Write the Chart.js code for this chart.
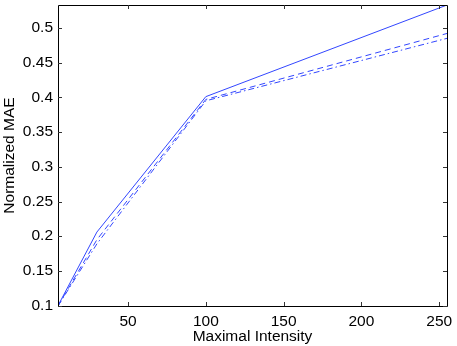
<!DOCTYPE html>
<html>
<head>
<meta charset="utf-8">
<script src="https://cdn.jsdelivr.net/npm/chart.js@4"></script>
<style>
    html, body { margin: 0; padding: 0; background: #fff; }
    #wrap { width: 457px; height: 346px; }
</style>
</head>
<body>
<div id="wrap"><canvas id="maeChart" width="457" height="346"></canvas></div>
<script>
// x positions (maximal intensity) and the three MAE curves
const intensity = [5, 30, 100, 255];
const maeSolid = [0.1, 0.206, 0.401, 0.533];
const maeDashed = [0.0995, 0.195, 0.397, 0.492];
const maeDashDot = [0.0995, 0.189, 0.395, 0.485];

const xTicks = [50, 100, 150, 200, 250];
const yTicks = [0.1, 0.15, 0.2, 0.25, 0.3, 0.35, 0.4, 0.45, 0.5];

const lineColor = 'rgb(50, 70, 255)';
const fontFamily = '"Liberation Sans", Arial, Helvetica, sans-serif';

const allY = maeSolid.concat(maeDashed, maeDashDot);

function toPoints(ys) {
    return intensity.map((x, i) => ({ x: x, y: ys[i] }));
}

// matlab-like box with inward ticks on all four sides
const boxTicks = {
    id: 'boxTicks',
    afterDraw(chart) {
        const ctx = chart.ctx;
        const a = chart.chartArea;
        const xs = chart.scales.x, ys = chart.scales.y;
        const len = 4;
        ctx.save();
        ctx.strokeStyle = '#000';
        ctx.lineWidth = 1;
        ctx.beginPath();
        ctx.rect(Math.round(a.left) + 0.5, Math.round(a.top) + 0.5,
                 Math.round(a.right - a.left), Math.round(a.bottom - a.top));
        ctx.stroke();
        ctx.strokeStyle = '#333';
        ctx.beginPath();
        xTicks.forEach(v => {
            const px = Math.round(xs.getPixelForValue(v)) + 0.5;
            ctx.moveTo(px, a.bottom); ctx.lineTo(px, a.bottom - len);
            ctx.moveTo(px, a.top); ctx.lineTo(px, a.top + len);
        });
        yTicks.forEach(v => {
            const py = Math.round(ys.getPixelForValue(v)) + 0.5;
            ctx.moveTo(a.left, py); ctx.lineTo(a.left + len, py);
            ctx.moveTo(a.right, py); ctx.lineTo(a.right - len, py);
        });
        ctx.stroke();
        ctx.restore();
    }
};

new Chart(document.getElementById('maeChart'), {
    type: 'line',
    data: {
        datasets: [
            {
                data: toPoints(maeSolid),
                borderColor: lineColor,
                borderWidth: 1,
                pointRadius: 0,
                tension: 0
            },
            {
                data: toPoints(maeDashed),
                borderColor: lineColor,
                borderWidth: 1,
                borderDash: [6, 4],
                pointRadius: 0,
                tension: 0
            },
            {
                data: toPoints(maeDashDot),
                borderColor: lineColor,
                borderWidth: 1,
                borderDash: [6, 3, 1.5, 3],
                pointRadius: 0,
                tension: 0
            }
        ]
    },
    options: {
        responsive: false,
        animation: false,
        layout: { padding: { top: 5, right: 10, left: 0, bottom: 0 } },
        plugins: {
            legend: { display: false },
            tooltip: { enabled: false }
        },
        scales: {
            x: {
                type: 'linear',
                min: 5,
                max: 255,
                grid: { display: false, drawTicks: false },
                border: { display: false },
                afterBuildTicks: scale => { scale.ticks = xTicks.map(v => ({ value: v })); },
                afterFit: scale => { scale.height = 40; scale.paddingLeft = 0; scale.paddingRight = 0; },
                ticks: {
                    color: '#000',
                    padding: 6,
                    maxRotation: 0,
                    font: { family: fontFamily, size: 15.5 }
                },
                title: {
                    display: true,
                    text: 'Maximal Intensity',
                    color: '#000',
                    padding: { top: 0, bottom: 0 },
                    font: { family: fontFamily, size: 15.5 }
                }
            },
            y: {
                type: 'linear',
                min: Math.min(...allY),
                max: Math.max(...allY),
                grid: { display: false, drawTicks: false },
                border: { display: false },
                afterBuildTicks: scale => { scale.ticks = yTicks.map(v => ({ value: v })); },
                afterFit: scale => { scale.width = 58; scale.paddingTop = 0; scale.paddingBottom = 0; },
                ticks: {
                    color: '#000',
                    padding: 5,
                    callback: v => String(v),
                    font: { family: fontFamily, size: 15.5 }
                },
                title: {
                    display: true,
                    text: 'Normalized MAE',
                    color: '#000',
                    padding: { top: 0, bottom: 0 },
                    font: { family: fontFamily, size: 15.5 }
                }
            }
        }
    },
    plugins: [boxTicks]
});
</script>
</body>
</html>
